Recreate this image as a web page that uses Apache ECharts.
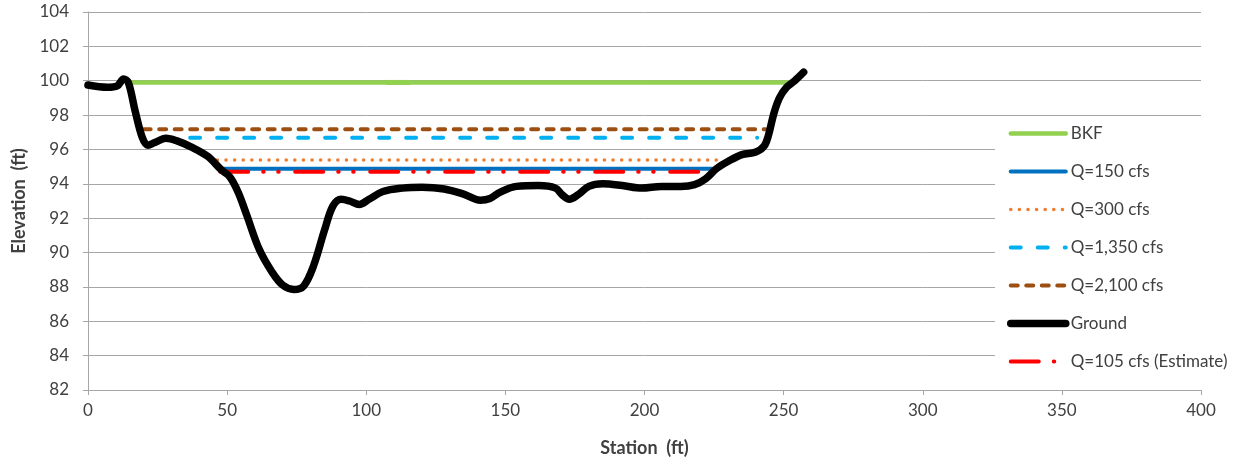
<!DOCTYPE html>
<html><head><meta charset="utf-8">
<script src="https://cdn.jsdelivr.net/npm/echarts@6/dist/echarts.min.js"></script>
<style>html,body{margin:0;padding:0;background:#fff}#c{width:1241px;height:468px}</style>
</head><body><div id="c"></div>
<script>
const xTicks = [0, 400, 50];
const yTicks = [82, 104, 2];
const bkf = [[15, 99.9], [111.5, 99.9], [252.5, 99.9]];
const q150 = [[47.5, 94.88], [226, 94.88]];
const q300 = [[46.5, 95.38], [228, 95.38]];
const q1350 = [[27, 96.68], [240.5, 96.68]];
const q2100 = [[20, 97.18], [243.5, 97.18]];
const q105 = [[47.5, 94.7], [225, 94.7]];
const ground = [[0,99.75],[7,99.62],[10.5,99.7],[12.8,100.1],[14.5,99.9],[17,98.2],[19.5,96.7],[21.5,96.25],[24,96.4],[28,96.65],[32,96.5],[37,96.15],[43,95.6],[48,94.8],[51,94.4],[54,93.5],[57,92.2],[61.5,90.2],[66,88.9],[70,88.1],[74,87.85],[77.5,88.05],[81,89.2],[85,91.3],[88,92.7],[91,93.1],[94,93.0],[97.5,92.8],[101,93.1],[106,93.55],[113,93.75],[120,93.8],[128,93.7],[135,93.4],[141,93.05],[144.5,93.15],[148,93.5],[154,93.85],[162,93.9],[168,93.75],[170.5,93.35],[173,93.1],[176,93.35],[180,93.85],[185,94.0],[192,93.9],[199,93.75],[206,93.85],[213,93.85],[218,93.95],[222,94.3],[226,94.9],[230,95.3],[235,95.7],[240,95.85],[243,96.2],[244.5,96.8],[246.5,98.1],[248.5,99.0],[251,99.6],[254,100.0],[257.2,100.5]];

const FONT = 'Lato';
const chart = echarts.init(document.getElementById('c'), null, {renderer: 'canvas'});
const styles = {
  'BKF': {color: '#92D050', width: 4.5, type: 'solid'},
  'Q=150 cfs': {color: '#0070C0', width: 4, type: 'solid'},
  'Q=300 cfs': {color: '#ED7D31', width: 3.5, type: [0.1, 8.5]},
  'Q=1,350 cfs': {color: '#00B0F0', width: 4, type: [10, 17]},
  'Q=2,100 cfs': {color: '#9C4F10', width: 4, type: [7, 8.5]},
  'Ground': {color: '#000000', width: 7.5, type: 'solid'},
  'Q=105 cfs (Estimate)': {color: '#FF0000', width: 4, type: [28, 15, 0.5, 14.5, 0.5, 16.5]}
};
function lineSeries(name, data, extra) {
  const s = styles[name];
  return Object.assign({
    name, type: 'line', data, symbol: 'none', showSymbol: false, silent: true,
    lineStyle: {color: s.color, width: s.width, type: s.type, cap: 'round'}, itemStyle: {color: s.color},
    animation: false
  }, extra || {});
}
const legendNames = ['BKF', 'Q=150 cfs', 'Q=300 cfs', 'Q=1,350 cfs', 'Q=2,100 cfs', 'Ground', 'Q=105 cfs (Estimate)'];
chart.setOption({
  animation: false,
  grid: {left: 88, right: 40, top: 12, bottom: 78},
  xAxis: {
    type: 'value', min: xTicks[0], max: xTicks[1], interval: xTicks[2],
    name: 'Station  (ft)', nameLocation: 'middle', nameGap: 49,
    nameTextStyle: {fontFamily: FONT, fontWeight: 'bold', fontSize: 18, color: '#404040'},
    axisLine: {show: true, lineStyle: {color: '#a6a6a6', width: 1}},
    axisTick: {show: true, length: 5, lineStyle: {color: '#a6a6a6'}},
    axisLabel: {fontFamily: FONT, fontSize: 17, color: '#404040', margin: 12},
    splitLine: {show: false}
  },
  yAxis: {
    type: 'value', min: yTicks[0], max: yTicks[1], interval: yTicks[2],
    name: 'Elevation  (ft)', nameLocation: 'middle', nameGap: 60, nameRotate: 90,
    nameTextStyle: {fontFamily: FONT, fontWeight: 'bold', fontSize: 18, color: '#404040'},
    axisLine: {show: true, lineStyle: {color: '#a6a6a6', width: 1}},
    axisTick: {show: true, inside: false, length: 5, lineStyle: {color: '#a6a6a6'}},
    axisLabel: {fontFamily: FONT, fontSize: 17, color: '#404040', margin: 19},
    splitLine: {show: true, lineStyle: {color: '#a6a6a6', width: 1}}
  },
  legend: {
    orient: 'vertical', left: 995, top: 118, width: 246,
    padding: [7, 10, 7, 12], itemGap: 21, itemWidth: 55, itemHeight: 14,
    backgroundColor: '#ffffff',
    textStyle: {fontFamily: FONT, fontSize: 17, color: '#404040'},
    itemStyle: {opacity: 0},
    data: legendNames.map(n => ({name: n, itemStyle: {opacity: 0},
      lineStyle: {color: styles[n].color, width: styles[n].width, type: styles[n].type, cap: 'round'}})),
    selectedMode: false
  },
  series: [
    lineSeries('BKF', bkf.map((p, i) => i === 1 ? {value: p, symbol: 'rect', symbolSize: [24, 5]} : p), {showSymbol: true}),
    lineSeries('Q=150 cfs', q150),
    lineSeries('Q=300 cfs', q300),
    lineSeries('Q=1,350 cfs', q1350),
    lineSeries('Q=2,100 cfs', q2100),
    lineSeries('Ground', ground, {smooth: 0.35, z: 5}),
    lineSeries('Q=105 cfs (Estimate)', q105, {z: 4})
  ]
});
</script></body></html>
